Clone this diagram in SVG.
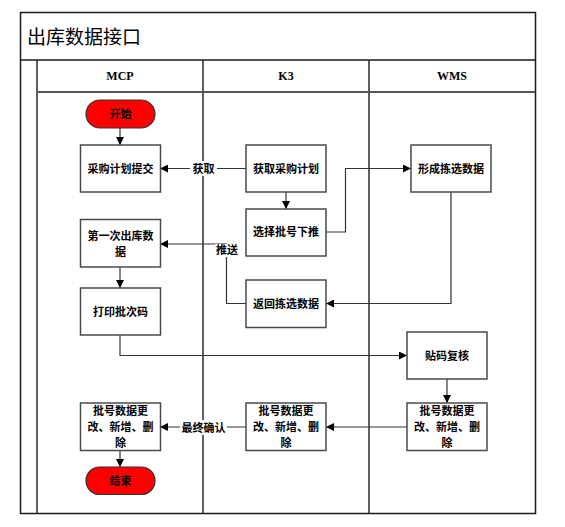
<svg xmlns="http://www.w3.org/2000/svg" width="565" height="527" viewBox="0 0 565 527">
<style>
.frame{fill:none;stroke:#1a1a1a;stroke-width:1.5}
.lane{fill:none;stroke:#2a2a2a;stroke-width:1.5}
.hdr{fill:none;stroke:#555;stroke-width:2}
.box{fill:#fff;stroke:#4a4a4a;stroke-width:1.5}
.term{fill:#ff0000;stroke:#333;stroke-width:1.2}
.t{font-family:"Noto Sans CJK SC","Liberation Sans",sans-serif;font-size:11px;font-weight:bold;fill:#000;text-anchor:middle}
.h{font-family:"Liberation Serif",serif;font-size:12px;font-weight:bold;fill:#000;text-anchor:middle}
.title{font-family:"Noto Sans CJK SC",sans-serif;font-size:19px;fill:#000}
.c{fill:none;stroke:#333;stroke-width:1.2}
.lbl{fill:#fff}
</style>
<defs>
<marker id="arr" viewBox="0 0 10 10" refX="10" refY="5" markerWidth="10" markerHeight="8" markerUnits="userSpaceOnUse" orient="auto">
<path d="M0,0 L10,5 L0,10 z" fill="#000"/>
</marker>
</defs>
<rect width="565" height="527" fill="#fff"/>
<g id="pool">
<rect class="frame" x="20.5" y="12.5" width="515" height="501"/>
<line class="frame" x1="20" y1="60" x2="535" y2="60"/>
<text class="title" x="27" y="44">出库数据接口</text>
<line class="lane" x1="37" y1="60" x2="37" y2="513"/>
<line class="lane" x1="203" y1="60" x2="203" y2="513"/>
<line class="lane" x1="369" y1="60" x2="369" y2="513"/>
<line class="hdr" x1="37" y1="92" x2="535" y2="92"/>
<text class="h" x="120" y="80">MCP</text>
<text class="h" x="286" y="80">K3</text>
<text class="h" x="452" y="80">WMS</text>
</g>
<g id="connectors">
<line class="c" x1="120" y1="128" x2="120" y2="145" marker-end="url(#arr)"/>
<line class="c" x1="246" y1="168.5" x2="160" y2="168.5" marker-end="url(#arr)"/>
<line class="c" x1="286" y1="192" x2="286" y2="209" marker-end="url(#arr)"/>
<polyline class="c" points="326,232 345.5,232 345.5,168.5 411,168.5" marker-end="url(#arr)"/>
<polyline class="c" points="451,192 451,303.5 326,303.5" marker-end="url(#arr)"/>
<polyline class="c" points="246,303.5 226.5,303.5 226.5,244 160,244" marker-end="url(#arr)"/>
<line class="c" x1="120" y1="267" x2="120" y2="288" marker-end="url(#arr)"/>
<polyline class="c" points="120,335 120,355.5 407,355.5" marker-end="url(#arr)"/>
<line class="c" x1="447" y1="379" x2="447" y2="403" marker-end="url(#arr)"/>
<line class="c" x1="407" y1="427" x2="326" y2="427" marker-end="url(#arr)"/>
<line class="c" x1="246" y1="427" x2="160" y2="427" marker-end="url(#arr)"/>
<line class="c" x1="120" y1="451" x2="120" y2="467" marker-end="url(#arr)"/>
<rect class="lbl" x="190" y="161" width="27" height="15"/>
<text class="t" x="203.5" y="172.5">获取</text>
<rect class="lbl" x="215" y="244" width="24" height="13"/>
<text class="t" x="227" y="254">推送</text>
<rect class="lbl" x="180" y="420" width="47" height="15"/>
<text class="t" x="203.5" y="431.5">最终确认</text>
</g>
<g id="start">
<rect class="term" x="86" y="100" width="69" height="28" rx="14"/>
<text class="t" x="120.5" y="118">开始</text>
</g>
<g id="mcp-submit">
<rect class="box" x="80.5" y="145" width="80" height="47"/>
<text class="t" x="120.5" y="172.5">采购计划提交</text>
</g>
<g id="k3-get">
<rect class="box" x="246" y="145" width="80" height="47"/>
<text class="t" x="286" y="172.5">获取采购计划</text>
</g>
<g id="wms-form">
<rect class="box" x="411" y="145" width="80" height="47"/>
<text class="t" x="451" y="172.5">形成拣选数据</text>
</g>
<g id="k3-select">
<rect class="box" x="246" y="209" width="80" height="47"/>
<text class="t" x="286" y="236">选择批号下推</text>
</g>
<g id="mcp-first">
<rect class="box" x="80.5" y="219.5" width="80" height="47.5"/>
<text class="t" x="120.5" y="239.5">第一次出库数<tspan x="120.5" dy="16">据</tspan></text>
</g>
<g id="mcp-print">
<rect class="box" x="80.5" y="288" width="80" height="47"/>
<text class="t" x="120.5" y="315.5">打印批次码</text>
</g>
<g id="k3-return">
<rect class="box" x="246" y="280" width="80" height="47.5"/>
<text class="t" x="286" y="307.5">返回拣选数据</text>
</g>
<g id="wms-check">
<rect class="box" x="407" y="332" width="80" height="47"/>
<text class="t" x="447" y="359.5">贴码复核</text>
</g>
<g id="wms-edit">
<rect class="box" x="407" y="403" width="80" height="47.5"/>
<text class="t" x="447" y="415">批号数据更<tspan x="447" dy="16">改、新增、删</tspan><tspan x="447" dy="16">除</tspan></text>
</g>
<g id="k3-edit">
<rect class="box" x="246" y="403" width="80" height="47.5"/>
<text class="t" x="286" y="415">批号数据更<tspan x="286" dy="16">改、新增、删</tspan><tspan x="286" dy="16">除</tspan></text>
</g>
<g id="mcp-edit">
<rect class="box" x="80.5" y="403" width="80" height="47.5"/>
<text class="t" x="120.5" y="415">批号数据更<tspan x="120.5" dy="16">改、新增、删</tspan><tspan x="120.5" dy="16">除</tspan></text>
</g>
<g id="end">
<rect class="term" x="86" y="467" width="69" height="27.5" rx="13.75"/>
<text class="t" x="120.5" y="485">结束</text>
</g>
</svg>
